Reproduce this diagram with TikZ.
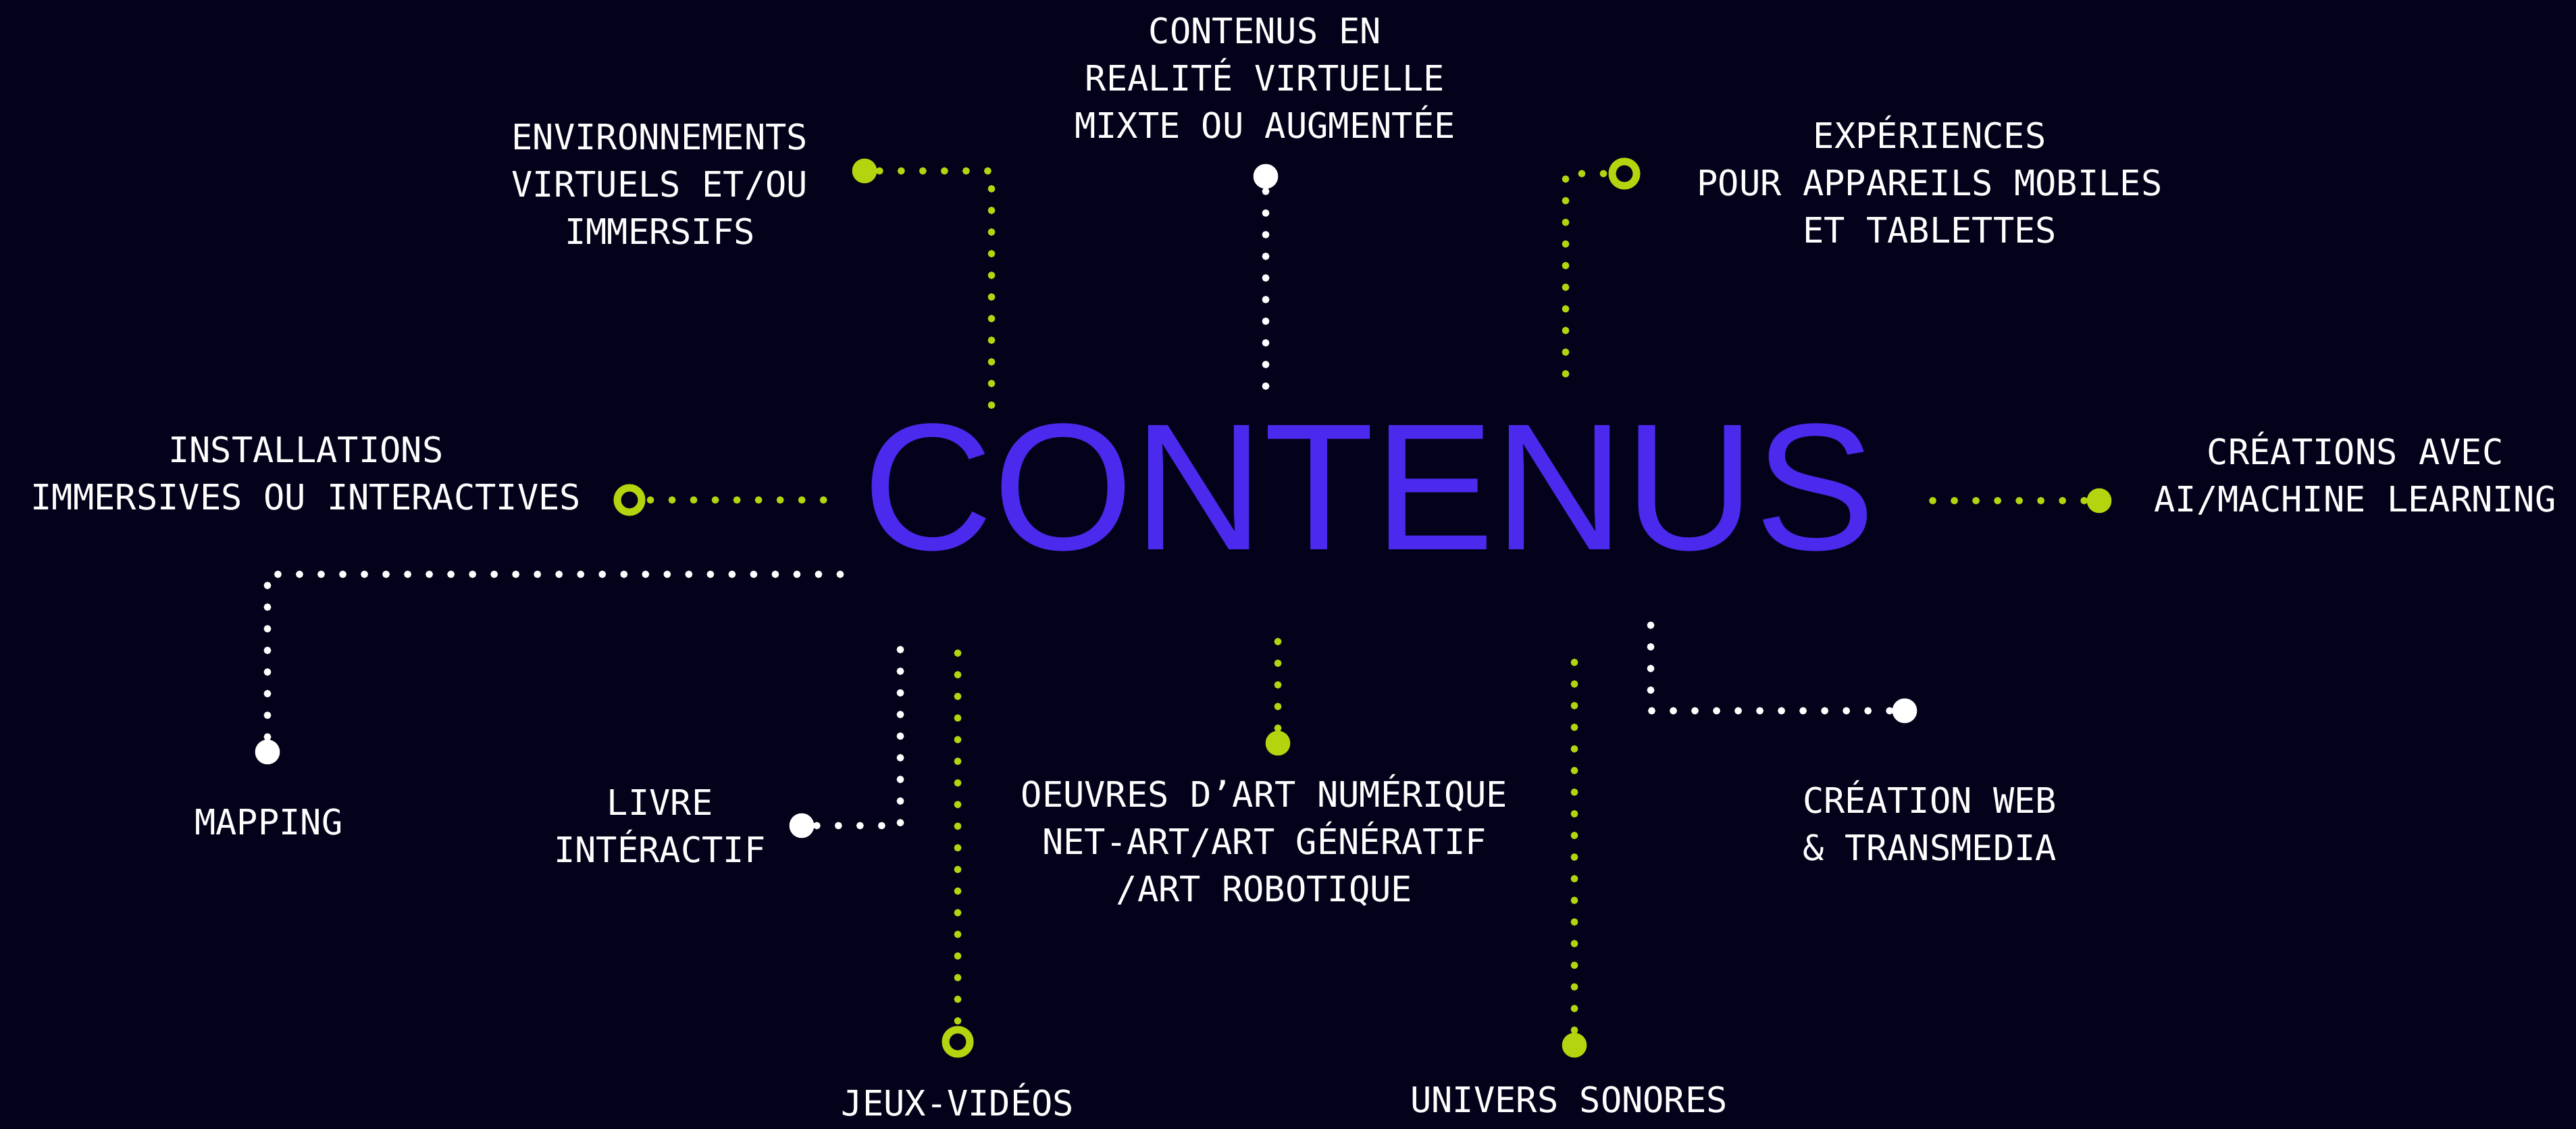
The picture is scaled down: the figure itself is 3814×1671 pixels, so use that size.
\documentclass[tikz,border=0pt]{standalone}
\usepackage{fontspec}
\setmainfont{DejaVu Sans Mono}
\newfontfamily\bigfont{Liberation Sans}
\usetikzlibrary{positioning}
\definecolor{bg}{RGB}{4,2,26}
\definecolor{lime}{RGB}{180,212,15}
\definecolor{violetblue}{RGB}{75,42,238}
\tikzset{
  bigword/.style={
    inner sep = 0pt,
    text = violetblue,
    font = \bigfont\fontsize{76pt}{80pt}\selectfont
  },
}
\tikzset{
  txt/.style={
    inner sep = 0pt,
    align = center,
    text = white,
    font = \fontsize{14.8pt}{19.9pt}\selectfont
  },
}
\tikzset{
  blob/.style={
    shape = circle,
    inner sep = 0pt,
    minimum size = 0.366cm,
    outer sep = 0.04cm
  },
  ring/.style={
    shape = circle,
    inner sep = 0pt,
    minimum size = 0.36cm,
    draw = lime,
    line width = 0.11cm,
    outer sep = 0.13cm
  },
  dotline/.style={
    line width = 0.11cm,
    line cap = round,
    dash pattern = on 0pt off 0.32cm
  }
}

\begin{document}
\begin{tikzpicture}[x=0.01cm, y=-0.01cm]
        \fill[bg] (0,0) rectangle (3814,1671);
        \node[bigword] (contenus) at (2027,722) {CONTENUS};
        % labels
        \node[txt] (envtxt) at (977,273) {ENVIRONNEMENTS\\VIRTUELS ET/OU\\IMMERSIFS};
        \node[txt] (cvrtxt) at (1873,116) {CONTENUS EN\\REALITÉ VIRTUELLE\\MIXTE OU AUGMENTÉE};
        \node[txt] (exptxt) at (2857,266) {EXPÉRIENCES\\POUR APPAREILS MOBILES\\ET TABLETTES};
        \node[txt] (insttxt) at (453,701) {INSTALLATIONS\\IMMERSIVES OU INTERACTIVES};
        \node[txt] (aitxt) at (3487,701) {CRÉATIONS AVEC\\AI/MACHINE LEARNING};
        \node[txt] (maptxt) at (398,1217) {MAPPING};
        \node[txt] (livretxt) at (977,1223) {LIVRE\\INTÉRACTIF};
        \node[txt] (oeuvtxt) at (1872,1244) {OEUVRES D’ART NUMÉRIQUE\\NET-ART/ART GÉNÉRATIF\\/ART ROBOTIQUE};
        \node[txt] (webtxt) at (2857,1215) {CRÉATION WEB\\\& TRANSMEDIA};
        \node[txt] (jeuxtxt) at (1418,1628) {JEUX-VIDÉOS};
        \node[txt] (univtxt) at (2323,1628) {UNIVERS SONORES};
        % end points
        \node[blob, fill=lime] (envdot) at (1280,253) {};
        \node[blob, fill=white] (cvrdot) at (1874,261) {};
        \node[ring] (expring) at (2405,257) {};
        \node[ring] (instring) at (932,740) {};
        \node[blob, fill=lime] (aidot) at (3108,741) {};
        \node[blob, fill=white] (mapdot) at (396,1113) {};
        \node[blob, fill=white] (livredot) at (1187,1222) {};
        \node[ring] (jeuxring) at (1418,1542) {};
        \node[blob, fill=lime] (oeuvdot) at (1892,1100) {};
        \node[blob, fill=lime] (univdot) at (2331,1547) {};
        \node[blob, fill=white] (webdot) at (2820,1052) {};
        % corners and free ends
        \coordinate (envbend) at (1468,253);
        \coordinate (envend) at (1468,608);
        \coordinate (cvrend) at (1874,580);
        \coordinate (expbend) at (2318,257);
        \coordinate (expend) at (2318,570);
        \coordinate (instend) at (1228,740);
        \coordinate (aiend) at (2852,741);
        \coordinate (mapbend) at (396,850);
        \coordinate (mapend) at (1262,850);
        \coordinate (livrebend) at (1333,1222);
        \coordinate (livreend) at (1333,960);
        \coordinate (jeuxend) at (1418,944);
        \coordinate (oeuvend) at (1892,920);
        \coordinate (univend) at (2331,950);
        \coordinate (webbend) at (2444,1052);
        \coordinate (webend) at (2444,920);
        % connectors
        \draw[dotline, lime] (envdot.east) -- (envbend) -- (envend);
        \draw[dotline, white] (cvrdot.south) -- (cvrend);
        \draw[dotline, lime] (expring.west) -- (expbend) -- (expend);
        \draw[dotline, lime] (instring.east) -- (instend);
        \draw[dotline, lime] (aidot.west) -- (aiend);
        \draw[dotline, white] (mapdot.north) -- (mapbend) -- (mapend);
        \draw[dotline, white] (livredot.east) -- (livrebend) -- (livreend);
        \draw[dotline, lime] (jeuxring.north) -- (jeuxend);
        \draw[dotline, lime] (oeuvdot.north) -- (oeuvend);
        \draw[dotline, lime] (univdot.north) -- (univend);
        \draw[dotline, white] (webdot.west) -- (webbend) -- (webend);
\end{tikzpicture}
\end{document}
